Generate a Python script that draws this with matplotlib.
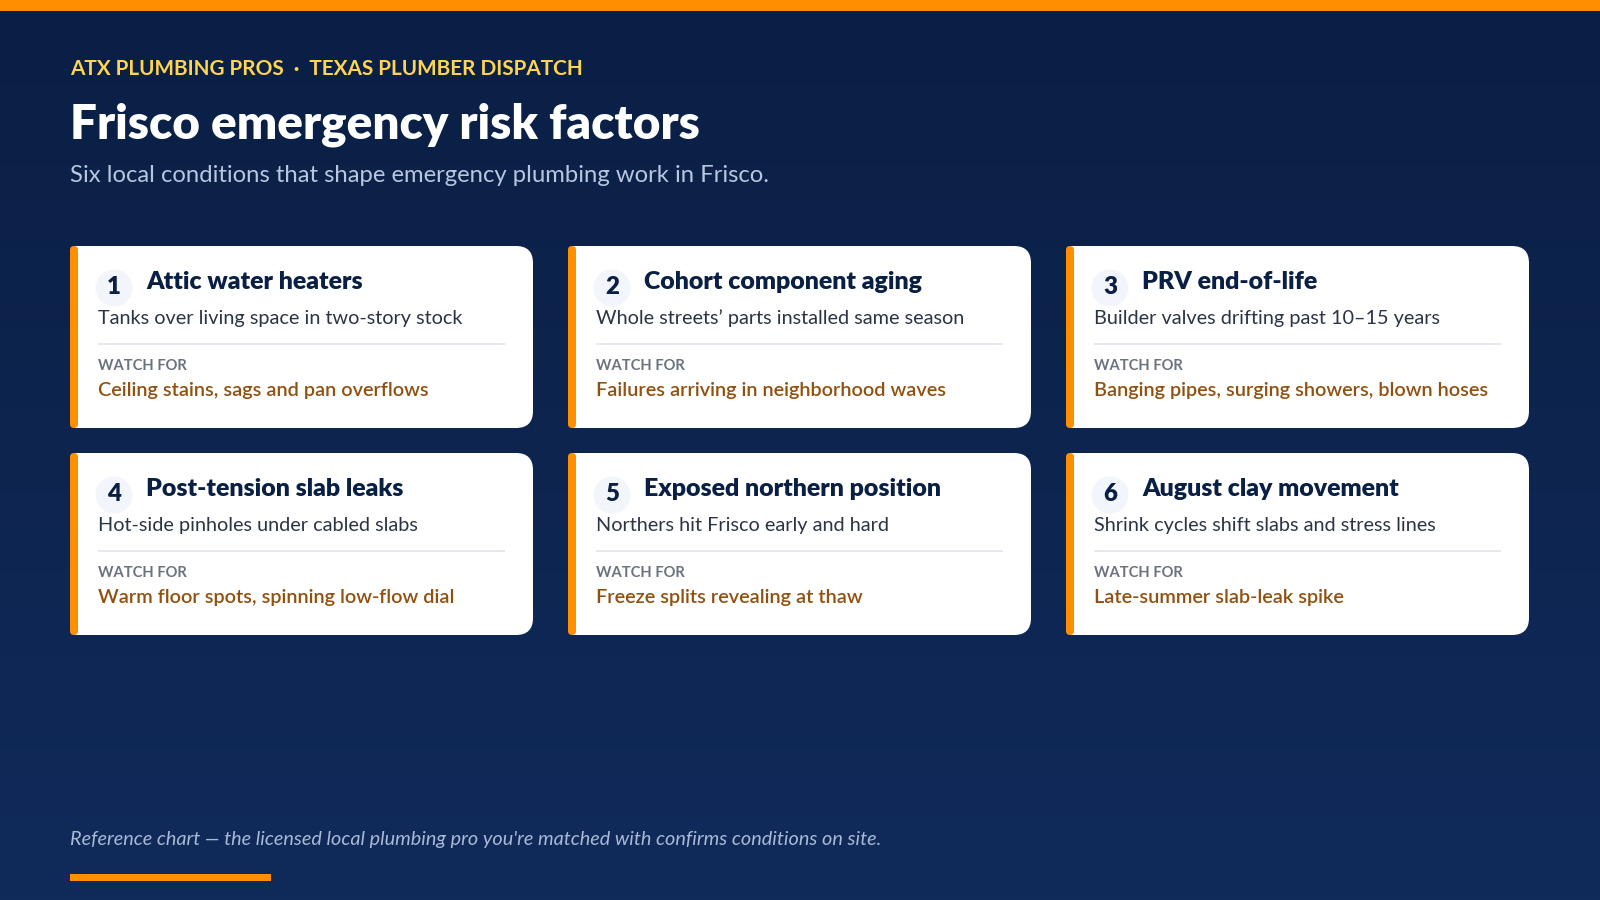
import numpy as np
import matplotlib
matplotlib.use("Agg")
import matplotlib.pyplot as plt
from matplotlib.patches import FancyBboxPatch, Rectangle, Circle
from matplotlib.colors import LinearSegmentedColormap

eyebrow = "ATX PLUMBING PROS  ·  TEXAS PLUMBER DISPATCH"
title = "Frisco emergency risk factors"
subtitle = "Six local conditions that shape emergency plumbing work in Frisco."
footer = "Reference chart — the licensed local plumbing pro you're matched with confirms conditions on site."
watch_label = "WATCH FOR"
card_titles = ["Attic water heaters", "Cohort component aging", "PRV end-of-life",
               "Post-tension slab leaks", "Exposed northern position", "August clay movement"]
card_subs = ["Tanks over living space in two-story stock",
             "Whole streets’ parts installed same season",
             "Builder valves drifting past 10–15 years",
             "Hot-side pinholes under cabled slabs",
             "Northers hit Frisco early and hard",
             "Shrink cycles shift slabs and stress lines"]
card_watch = ["Ceiling stains, sags and pan overflows",
              "Failures arriving in neighborhood waves",
              "Banging pipes, surging showers, blown hoses",
              "Warm floor spots, spinning low-flow dial",
              "Freeze splits revealing at thaw",
              "Late-summer slab-leak spike"]

ORANGE = "#FF8F00"
plt.rcParams['font.family'] = ['Lato', 'DejaVu Sans']
px = 0.72

fig = plt.figure(figsize=(16, 9), dpi=100)
ax = fig.add_axes([0, 0, 1, 1])
ax.set_xlim(0, 1600)
ax.set_ylim(900, 0)
ax.axis("off")

cmap = LinearSegmentedColormap.from_list("bg", ["#0A1F44", "#102A5A"])
ax.imshow(np.linspace(0, 1, 256).reshape(-1, 1), cmap=cmap, extent=(0, 1600, 900, 0),
          aspect="auto", zorder=0)
ax.set_xlim(0, 1600)
ax.set_ylim(900, 0)

ax.add_patch(Rectangle((0, 0), 1600, 11, fc=ORANGE, ec="none", zorder=1))
ax.add_patch(Rectangle((70, 874), 201, 7, fc=ORANGE, ec="none", zorder=1))

def T(x, y, s, size, color, weight="normal", style="normal", ha="left"):
    return ax.text(x, y, s, fontsize=size * px, color=color, fontweight=weight,
                   fontstyle=style, ha=ha, va="baseline", zorder=5)

T(70, 75, eyebrow, 20.8, "#FFD54F", "bold")
T(70, 138.5, title, 47.65, "#FFFFFF", "heavy")
T(70, 182, subtitle, 23.9, "#B8C7E0")
T(70, 845, footer, 19.9, "#A9B9D6", style="italic")

card_w, card_h = 463, 182
xs = [70, 568, 1066]
ys = [246, 453]
for i in range(6):
    x = xs[i % 3]
    y = ys[i // 3]
    ax.add_patch(FancyBboxPatch((x + 4, y), card_w - 4, card_h,
                                boxstyle="round,pad=0,rounding_size=17",
                                fc="white", ec="none", zorder=2))
    ax.add_patch(Rectangle((x + 4, y), 30, card_h, fc="white", ec="none", zorder=2))
    ax.add_patch(FancyBboxPatch((x, y), 8, card_h,
                                boxstyle="round,pad=0,rounding_size=4",
                                fc=ORANGE, ec="none", zorder=3))
    ax.add_patch(Circle((x + 44, y + 42), 18.5, fc="#F2F5FB", ec="none", zorder=4))
    T(x + 44, y + 48, str(i + 1), 24, "#0A1F44", "heavy", ha="center")
    T(x + 76, y + 43, card_titles[i], 24.9, "#0A1F44", "heavy")
    T(x + 28, y + 78, card_subs[i], 19.9, "#2B3445")
    ax.add_patch(Rectangle((x + 28, y + 97), 407, 1.6, fc="#E4E8F1", ec="none", zorder=4))
    T(x + 28, y + 124, watch_label, 14.8, "#6B7280", "bold")
    T(x + 28, y + 150, card_watch[i], 19.9, "#92500F", "semibold")

fig.savefig("out.png", dpi=100)
